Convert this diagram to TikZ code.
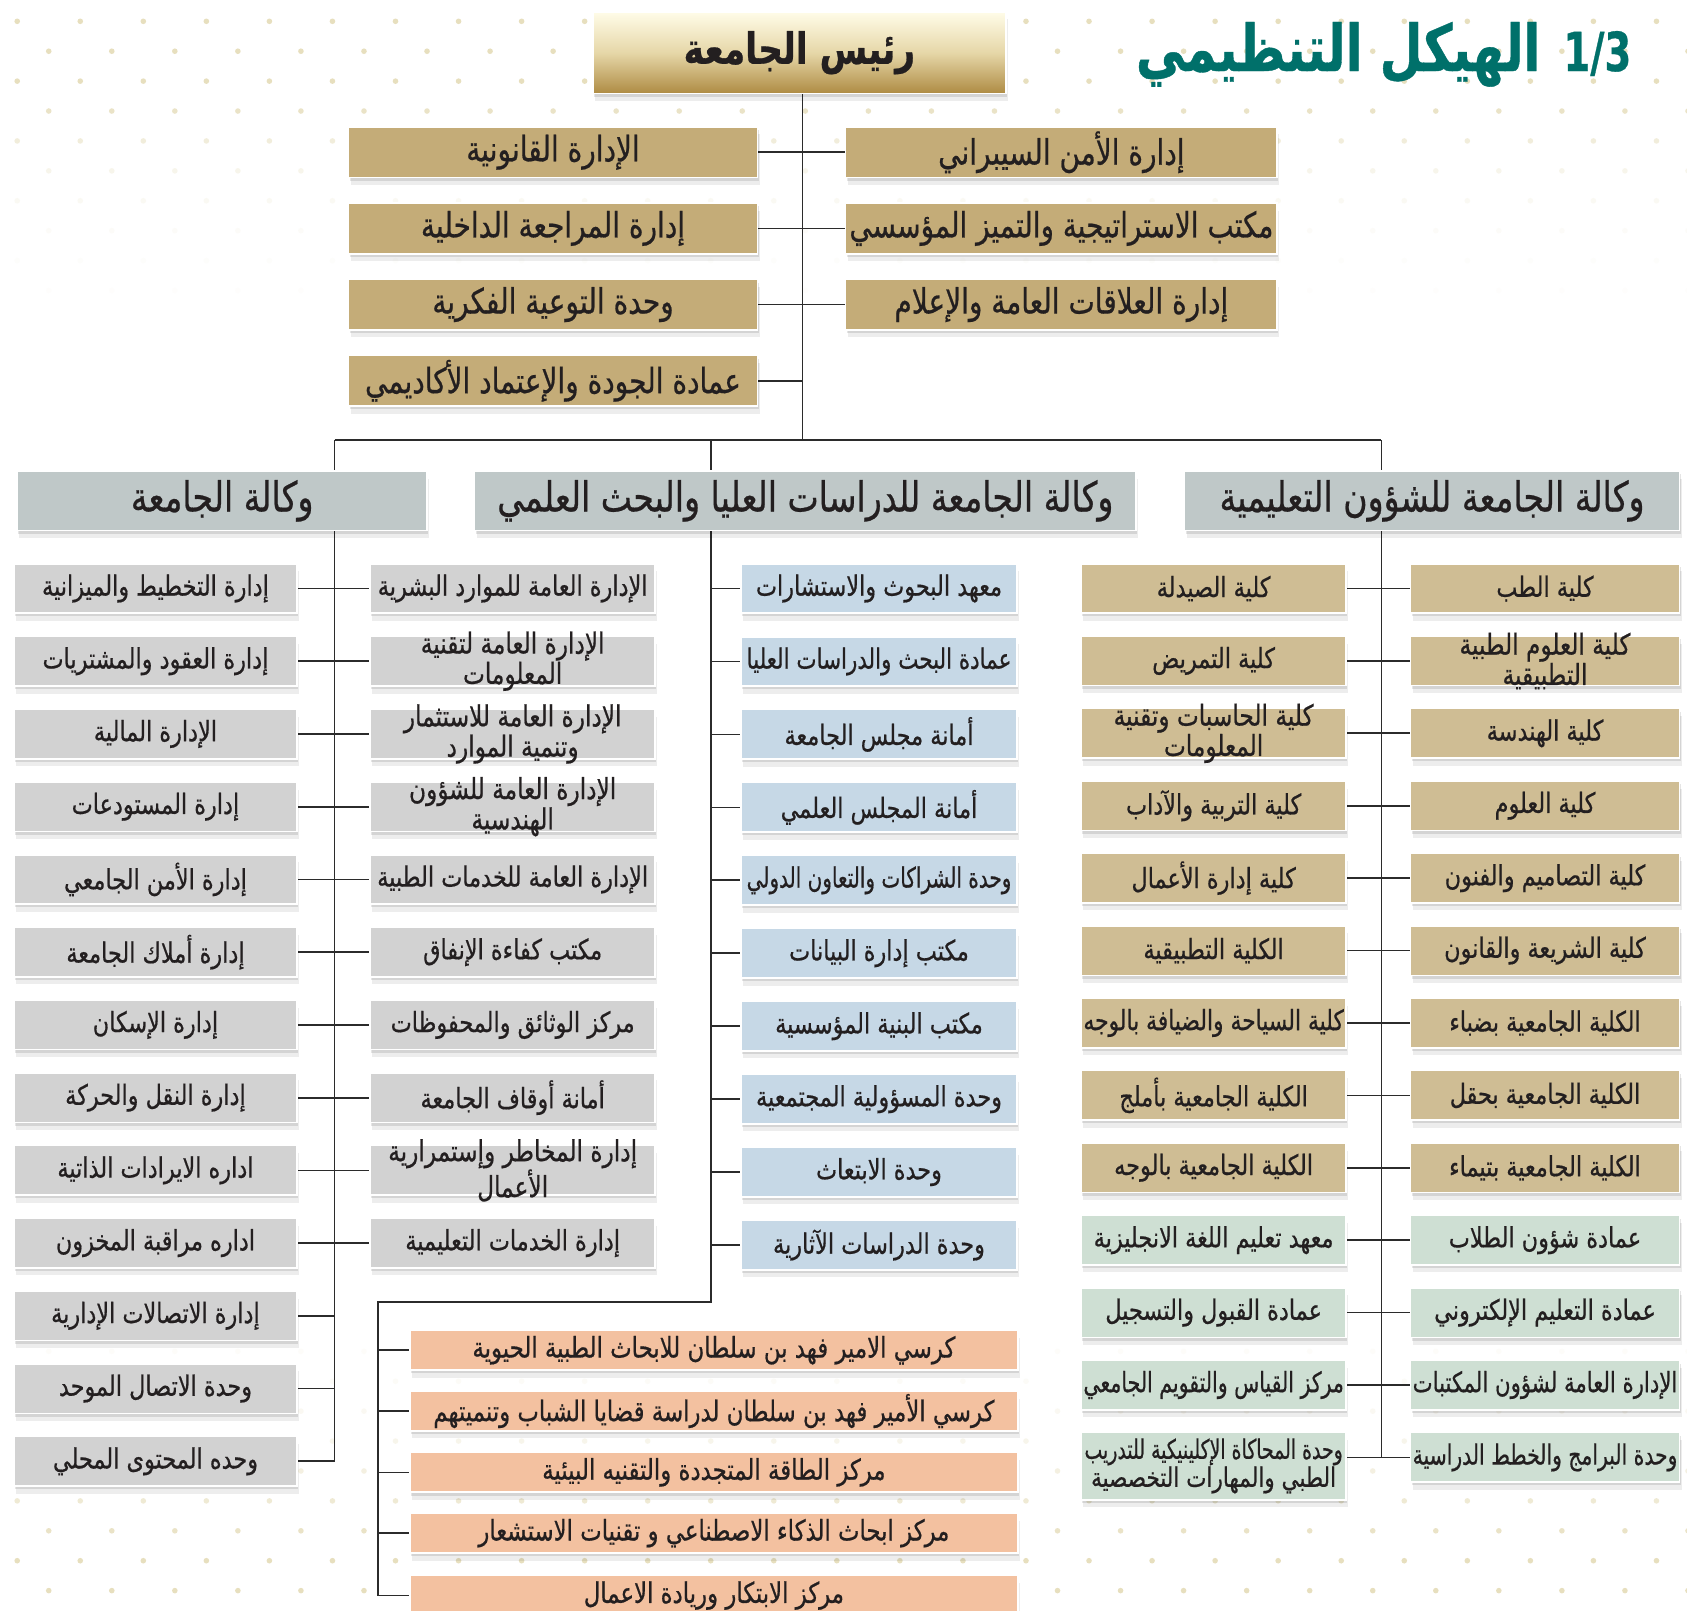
\documentclass[tikz,border=0pt]{standalone}
\usepackage{fontspec}
\usepackage{graphicx}
\usetikzlibrary{shadows}
\TeXXeTstate=1
\newfontfamily\arabicfont[Script=Arabic,FakeStretch=0.8,FakeBold=0.6]{DejaVu Sans}
\newsavebox\arbox
\newcommand\FitAR[2]{\sbox\arbox{\arabicfont #2}\ifdim\wd\arbox>#1pt\relax\resizebox{#1pt}{\height}{\usebox\arbox}\else\usebox\arbox\fi}
\definecolor{tanA}{HTML}{C4AC78}
\definecolor{tanB}{HTML}{CFBD94}
\definecolor{greyBox}{HTML}{D2D2D2}
\definecolor{viceBox}{HTML}{BFC8C8}
\definecolor{blueBox}{HTML}{C6D8E6}
\definecolor{greenBox}{HTML}{CEDFD3}
\definecolor{orangeBox}{HTML}{F3C1A0}
\definecolor{tealT}{HTML}{00706A}
\definecolor{ink}{HTML}{231F20}
\definecolor{lineC}{HTML}{2B2B2B}
\definecolor{dotC}{RGB}{231,223,190}
\definecolor{rootTop}{HTML}{FFFCE8}
\definecolor{rootMid}{HTML}{E6D7A8}
\definecolor{rootBot}{HTML}{AE8B43}
\pgfdeclarelayer{dots}
\pgfdeclarelayer{bg}
\pgfsetlayers{dots,bg,main}
\tikzset{
  x=1pt, y=-1pt,
  box/.style={draw=white, line width=1.5pt, inner sep=0pt, text=ink, align=center,
    general shadow={shadow xshift=1pt, shadow yshift=-3pt, opacity=0.10, fill=black},
    general shadow={shadow xshift=2pt, shadow yshift=-7pt, opacity=0.07, fill=black}},
  topbox/.style={box, fill=tanA, minimum width=380, minimum height=47, font=\fontsize{32.5}{33}\selectfont},
  vicebox/.style={box, fill=viceBox, minimum height=55, font=\fontsize{38.5}{40}\selectfont},
  colbox/.style={box, minimum height=46, font=\fontsize{26}{26}\selectfont},
  twoline/.style={font=\fontsize{27}{23}\selectfont, inner ysep=-8pt},
  lbox/.style={colbox, fill=greyBox, minimum width=263},
  mbox/.style={colbox, fill=greyBox, minimum width=265},
  bbox/.style={colbox, fill=blueBox, minimum width=256},
  clbox/.style={colbox, fill=tanB, minimum width=246},
  crbox/.style={colbox, fill=tanB, minimum width=250},
  grn/.style={fill=greenBox},
  obox/.style={box, fill=orangeBox, minimum width=565, minimum height=37, font=\fontsize{26.5}{26}\selectfont, inner ysep=-4pt},
  conn/.style={draw=lineC, line width=1.6pt},
}
\begin{document}
\begin{tikzpicture}
\useasboundingbox (0,0) rectangle (1568,1497);
\begin{pgfonlayer}{dots}
\fill[white] (0,0) rectangle (1568,1497);
\foreach \r/\op in {0/1,1/1,2/1,3/0.85,4/0.55,5/0.3,6/0.18,7/0.1,8/0.06,9/0.04}{
  \pgfmathsetmacro\yy{19.8+27.8*\r}
  \pgfmathsetmacro\xo{mod(\r,2)==0 ? 16 : 45.3}
  \foreach \k in {0,...,26} \fill[dotC, opacity=\op] ({\xo+58.6*\k},\yy) circle (2.6pt);
}
\foreach \r/\op in {0/0.08,1/0.12,2/0.2,3/0.3,4/0.45,5/0.65,6/0.85,7/1,8/1}{
  \pgfmathsetmacro\yy{1256+27.8*\r}
  \pgfmathsetmacro\xo{mod(\r,2)==1 ? 16 : 45.3}
  \foreach \k in {0,...,26} \fill[dotC, opacity=\op] ({\xo+58.6*\k},\yy) circle (2.6pt);
}
\end{pgfonlayer}

% title
\node[anchor=base east, inner sep=0pt, text=tealT, font=\fontsize{60}{64}\selectfont\bfseries] (title) at (1432,66) {\FitAR{376}{\beginR الهيكل التنظيمي\endR}};
\node[anchor=base west, inner sep=0pt, text=tealT, font=\fontsize{50}{54}\selectfont\bfseries] (num) at (1453,66) {\resizebox{63pt}{\height}{\arabicfont 1/3}};

% root
\node[box, minimum width=384, minimum height=76, top color=rootTop, bottom color=rootBot, middle color=rootMid, font=\fontsize{40}{42}\selectfont\bfseries] (root) at (743,49) {\FitAR{232}{\beginR رئيس الجامعة\endR}};

% top offices
\node[topbox] (T0) at (514,141.5) {\FitAR{368}{\beginR الإدارة القانونية\endR}};
\node[topbox] (T1) at (514,212.3) {\FitAR{368}{\beginR إدارة المراجعة الداخلية\endR}};
\node[topbox] (T2) at (514,283.1) {\FitAR{368}{\beginR وحدة التوعية الفكرية\endR}};
\node[topbox] (T3) at (514,353.9) {\FitAR{362}{\beginR عمادة الجودة والإعتماد الأكاديمي\endR}};
\node[topbox, minimum width=401] (R0) at (986.5,141.5) {\FitAR{392}{\beginR إدارة الأمن السيبراني\endR}};
\node[topbox, minimum width=401] (R1) at (986.5,212.3) {\FitAR{394}{\beginR مكتب الاستراتيجية والتميز المؤسسي\endR}};
\node[topbox, minimum width=401] (R2) at (986.5,283.1) {\FitAR{392}{\beginR إدارة العلاقات العامة والإعلام\endR}};

% vice presidencies
\node[vicebox, minimum width=381] (V1) at (206.5,465.5) {\FitAR{370}{\beginR وكالة الجامعة\endR}};
\node[vicebox, minimum width=615] (V2) at (748.5,465.5) {\FitAR{580}{\beginR وكالة الجامعة للدراسات العليا والبحث العلمي\endR}};
\node[vicebox, minimum width=460] (V3) at (1331,465.5) {\FitAR{420}{\beginR وكالة الجامعة للشؤون التعليمية\endR}};

% left column
\node[lbox] (L0) at (144.5,{547+67.6*0}) {\FitAR{250}{\beginR إدارة التخطيط والميزانية\endR}};
\node[lbox] (L1) at (144.5,{547+67.6*1}) {\FitAR{250}{\beginR إدارة العقود والمشتريات\endR}};
\node[lbox] (L2) at (144.5,{547+67.6*2}) {\FitAR{250}{\beginR الإدارة المالية\endR}};
\node[lbox] (L3) at (144.5,{547+67.6*3}) {\FitAR{250}{\beginR إدارة المستودعات\endR}};
\node[lbox] (L4) at (144.5,{547+67.6*4}) {\FitAR{250}{\beginR إدارة الأمن الجامعي\endR}};
\node[lbox] (L5) at (144.5,{547+67.6*5}) {\FitAR{250}{\beginR إدارة أملاك الجامعة\endR}};
\node[lbox] (L6) at (144.5,{547+67.6*6}) {\FitAR{250}{\beginR إدارة الإسكان\endR}};
\node[lbox] (L7) at (144.5,{547+67.6*7}) {\FitAR{250}{\beginR إدارة النقل والحركة\endR}};
\node[lbox] (L8) at (144.5,{547+67.6*8}) {\FitAR{250}{\beginR اداره الايرادات الذاتية\endR}};
\node[lbox] (L9) at (144.5,{547+67.6*9}) {\FitAR{250}{\beginR اداره مراقبة المخزون\endR}};
\node[lbox] (L10) at (144.5,{547+67.6*10}) {\FitAR{250}{\beginR إدارة الاتصالات الإدارية\endR}};
\node[lbox] (L11) at (144.5,{547+67.6*11}) {\FitAR{250}{\beginR وحدة الاتصال الموحد\endR}};
\node[lbox] (L12) at (144.5,{547+67.6*12}) {\FitAR{250}{\beginR وحده المحتوى المحلي\endR}};

% middle-left column
\node[mbox] (M0) at (476.5,{547+67.6*0}) {\FitAR{256}{\beginR الإدارة العامة للموارد البشرية\endR}};
\node[mbox, twoline] (M1) at (476.5,{547+67.6*1}) {\FitAR{250}{\beginR الإدارة العامة لتقنية\endR}\\\FitAR{250}{\beginR المعلومات\endR}};
\node[mbox, twoline] (M2) at (476.5,{547+67.6*2}) {\FitAR{250}{\beginR الإدارة العامة للاستثمار\endR}\\\FitAR{250}{\beginR وتنمية الموارد\endR}};
\node[mbox, twoline] (M3) at (476.5,{547+67.6*3}) {\FitAR{250}{\beginR الإدارة العامة للشؤون\endR}\\\FitAR{250}{\beginR الهندسية\endR}};
\node[mbox] (M4) at (476.5,{547+67.6*4}) {\FitAR{256}{\beginR الإدارة العامة للخدمات الطبية\endR}};
\node[mbox] (M5) at (476.5,{547+67.6*5}) {\FitAR{250}{\beginR مكتب كفاءة الإنفاق\endR}};
\node[mbox] (M6) at (476.5,{547+67.6*6}) {\FitAR{250}{\beginR مركز الوثائق والمحفوظات\endR}};
\node[mbox] (M7) at (476.5,{547+67.6*7}) {\FitAR{250}{\beginR أمانة أوقاف الجامعة\endR}};
\node[mbox, twoline] (M8) at (476.5,{547+67.6*8}) {\FitAR{250}{\beginR إدارة المخاطر وإستمرارية\endR}\\\FitAR{250}{\beginR الأعمال\endR}};
\node[mbox] (M9) at (476.5,{547+67.6*9}) {\FitAR{250}{\beginR إدارة الخدمات التعليمية\endR}};

% blue column
\node[bbox] (B0) at (817,{547+67.8*0}) {\FitAR{246}{\beginR معهد البحوث والاستشارات\endR}};
\node[bbox] (B1) at (817,{547+67.8*1}) {\FitAR{246}{\beginR عمادة البحث والدراسات العليا\endR}};
\node[bbox] (B2) at (817,{547+67.8*2}) {\FitAR{246}{\beginR أمانة مجلس الجامعة\endR}};
\node[bbox] (B3) at (817,{547+67.8*3}) {\FitAR{246}{\beginR أمانة المجلس العلمي\endR}};
\node[bbox] (B4) at (817,{547+67.8*4}) {\FitAR{246}{\beginR وحدة الشراكات والتعاون الدولي\endR}};
\node[bbox] (B5) at (817,{547+67.8*5}) {\FitAR{246}{\beginR مكتب إدارة البيانات\endR}};
\node[bbox] (B6) at (817,{547+67.8*6}) {\FitAR{246}{\beginR مكتب البنية المؤسسية\endR}};
\node[bbox] (B7) at (817,{547+67.8*7}) {\FitAR{246}{\beginR وحدة المسؤولية المجتمعية\endR}};
\node[bbox] (B8) at (817,{547+67.8*8}) {\FitAR{246}{\beginR وحدة الابتعاث\endR}};
\node[bbox] (B9) at (817,{547+67.8*9}) {\FitAR{246}{\beginR وحدة الدراسات الآثارية\endR}};

% orange boxes
\node[obox] (O0) at (663.5,1255) {\FitAR{550}{\beginR كرسي الامير فهد بن سلطان للابحاث الطبية الحيوية\endR}};
\node[obox] (O1) at (663.5,1311.5) {\FitAR{550}{\beginR كرسي الأمير فهد بن سلطان لدراسة قضايا الشباب وتنميتهم\endR}};
\node[obox] (O2) at (663.5,1368.5) {\FitAR{550}{\beginR مركز الطاقة المتجددة والتقنيه البيئية\endR}};
\node[obox] (O3) at (663.5,1425) {\FitAR{550}{\beginR مركز ابحاث الذكاء الاصطناعي و تقنيات الاستشعار\endR}};
\node[obox] (O4) at (663.5,1483) {\FitAR{550}{\beginR مركز الابتكار وريادة الاعمال\endR}};

% colleges left
\node[clbox] (CL0) at (1128,{547+67.3*0}) {\FitAR{240}{\beginR كلية الصيدلة\endR}};
\node[clbox] (CL1) at (1128,{547+67.3*1}) {\FitAR{240}{\beginR كلية التمريض\endR}};
\node[clbox, twoline] (CL2) at (1128,{547+67.3*2}) {\FitAR{236}{\beginR كلية الحاسبات وتقنية\endR}\\\FitAR{236}{\beginR المعلومات\endR}};
\node[clbox] (CL3) at (1128,{547+67.3*3}) {\FitAR{240}{\beginR كلية التربية والآداب\endR}};
\node[clbox] (CL4) at (1128,{547+67.3*4}) {\FitAR{240}{\beginR كلية إدارة الأعمال\endR}};
\node[clbox] (CL5) at (1128,{547+67.3*5}) {\FitAR{240}{\beginR الكلية التطبيقية\endR}};
\node[clbox] (CL6) at (1128,{547+67.3*6}) {\FitAR{242}{\beginR كلية السياحة والضيافة بالوجه\endR}};
\node[clbox] (CL7) at (1128,{547+67.3*7}) {\FitAR{240}{\beginR الكلية الجامعية بأملج\endR}};
\node[clbox] (CL8) at (1128,{547+67.3*8}) {\FitAR{240}{\beginR الكلية الجامعية بالوجه\endR}};
\node[clbox, grn] (CL9) at (1128,{547+67.3*9}) {\FitAR{242}{\beginR معهد تعليم اللغة الانجليزية\endR}};
\node[clbox, grn] (CL10) at (1128,{547+67.3*10}) {\FitAR{240}{\beginR عمادة القبول والتسجيل\endR}};
\node[clbox, grn] (CL11) at (1128,{547+67.3*11}) {\FitAR{242}{\beginR مركز القياس والتقويم الجامعي\endR}};
\node[clbox, grn, twoline, minimum height=63, inner ysep=0pt, font=\fontsize{25}{24}\selectfont] (CL12) at (1128,1362.5) {\FitAR{240}{\beginR وحدة المحاكاة الإكلينيكية للتدريب\endR}\\\FitAR{236}{\beginR الطبي والمهارات التخصصية\endR}};

% colleges right
\node[crbox] (CR0) at (1436,{547+67.3*0}) {\FitAR{244}{\beginR كلية الطب\endR}};
\node[crbox, twoline] (CR1) at (1436,{547+67.3*1}) {\FitAR{240}{\beginR كلية العلوم الطبية\endR}\\\FitAR{240}{\beginR التطبيقية\endR}};
\node[crbox] (CR2) at (1436,{547+67.3*2}) {\FitAR{244}{\beginR كلية الهندسة\endR}};
\node[crbox] (CR3) at (1436,{547+67.3*3}) {\FitAR{244}{\beginR كلية العلوم\endR}};
\node[crbox] (CR4) at (1436,{547+67.3*4}) {\FitAR{244}{\beginR كلية التصاميم والفنون\endR}};
\node[crbox] (CR5) at (1436,{547+67.3*5}) {\FitAR{244}{\beginR كلية الشريعة والقانون\endR}};
\node[crbox] (CR6) at (1436,{547+67.3*6}) {\FitAR{244}{\beginR الكلية الجامعية بضباء\endR}};
\node[crbox] (CR7) at (1436,{547+67.3*7}) {\FitAR{244}{\beginR الكلية الجامعية بحقل\endR}};
\node[crbox] (CR8) at (1436,{547+67.3*8}) {\FitAR{244}{\beginR الكلية الجامعية بتيماء\endR}};
\node[crbox, grn] (CR9) at (1436,{547+67.3*9}) {\FitAR{244}{\beginR عمادة شؤون الطلاب\endR}};
\node[crbox, grn] (CR10) at (1436,{547+67.3*10}) {\FitAR{244}{\beginR عمادة التعليم الإلكتروني\endR}};
\node[crbox, grn] (CR11) at (1436,{547+67.3*11}) {\FitAR{246}{\beginR الإدارة العامة لشؤون المكتبات\endR}};
\node[crbox, grn] (CR12) at (1436,{547+67.3*12}) {\FitAR{246}{\beginR وحدة البرامج والخطط الدراسية\endR}};

% connectors
\coordinate (tr) at (746,409);
\coordinate (busL) at (311,409);
\coordinate (busM) at (661,409);
\coordinate (busR) at (1284,409);
\coordinate (mc) at (661,1210);
\coordinate (oc) at (351,1210);
\begin{pgfonlayer}{bg}
\draw[conn] (root.south -| tr) -- (tr);
\draw[conn] (busL) -- (busR);
\foreach \i in {0,...,3} \draw[conn] (T\i.east) -- (T\i.east -| tr);
\foreach \i in {0,...,2} \draw[conn] (R\i.west) -- (R\i.west -| tr);
\draw[conn] (busL) -- (L12.east -| busL) -- (L12.east);
\foreach \i in {0,...,9} \draw[conn] (L\i.east) -- (M\i.west);
\foreach \i in {10,11} \draw[conn] (L\i.east) -- (L\i.east -| busL);
\draw[conn] (busM) -- (mc) -- (oc) -- (O4.west -| oc) -- (O4.west);
\foreach \i in {0,...,9} \draw[conn] (B\i.west) -- (B\i.west -| busM);
\foreach \i in {0,...,3} \draw[conn] (O\i.west) -- (O\i.west -| oc);
\draw[conn] (busR) -- (CR12.west -| busR);
\foreach \i in {0,...,12} \draw[conn] (CR\i.west) -- (CR\i.west -| CL\i.east);
\end{pgfonlayer}
\end{tikzpicture}
\end{document}
